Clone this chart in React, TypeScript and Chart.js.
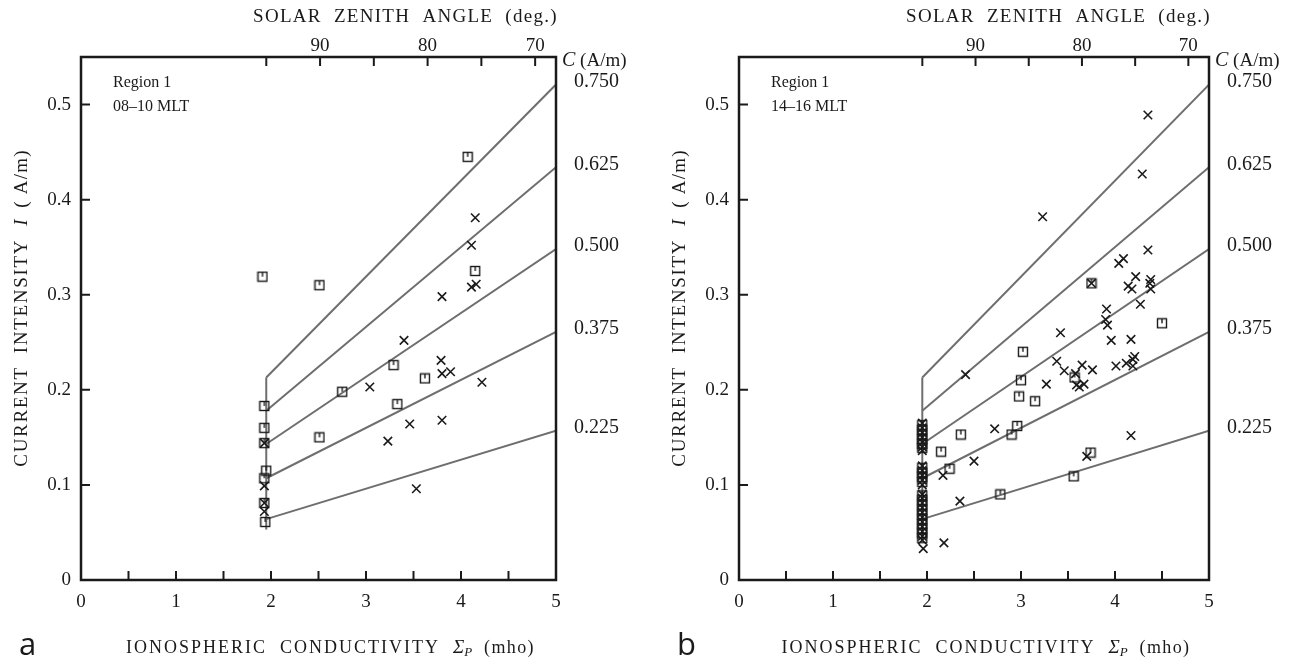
import React, { useEffect, useRef } from "react";
import { Chart, registerables } from "chart.js";

Chart.register(...registerables);

// ---------- shared axis / curve data ----------
const xTickValues = [0, 1, 2, 3, 4, 5];
const xMinorTicks = [0.5, 1, 1.5, 2, 2.5, 3, 3.5, 4, 4.5];
const yTickValues = [0, 0.1, 0.2, 0.3, 0.4, 0.5];
const yInnerTicks = [0.1, 0.2, 0.3, 0.4, 0.5];
const zenithTicks = [95, 90, 85, 80, 75, 70];
const zenithLabels = ["", "90", "", "80", "", "70"];
const zenithMin = 68.06;
const zenithMax = 112.23;
const cLabels = ["0.750", "0.625", "0.500", "0.375", "0.225"];
const lineStartSigma = 1.95;
const lineEndSigma = 5;
const lineStartI = [0.213, 0.178, 0.143, 0.107, 0.064];
const lineEndI = [0.521, 0.434, 0.348, 0.261, 0.157];

// ---------- panel a (08-10 MLT) ----------
const aVertical = [0.053, 0.213];
const aSquareX = [1.91, 2.51, 4.07, 4.15, 3.29, 3.62, 2.75, 3.33, 2.51, 1.93, 1.93, 1.93, 1.95, 1.93, 1.93, 1.94];
const aSquareY = [0.319, 0.31, 0.445, 0.325, 0.226, 0.212, 0.198, 0.185, 0.15, 0.183, 0.16, 0.144, 0.115, 0.107, 0.081, 0.061];
const aCrossX = [4.15, 4.11, 4.11, 4.16, 3.8, 3.4, 3.79, 3.8, 3.89, 3.04, 4.22, 3.46, 3.8, 3.23, 3.53, 1.93, 1.93, 1.93, 1.93];
const aCrossY = [0.381, 0.352, 0.308, 0.311, 0.298, 0.252, 0.231, 0.217, 0.219, 0.203, 0.208, 0.164, 0.168, 0.146, 0.096, 0.144, 0.099, 0.081, 0.072];

// ---------- panel b (14-16 MLT) ----------
const bVertical = [0.04, 0.213];
const bSquareX = [
  3.75, 4.5, 3.02, 3.0, 2.98, 3.15, 3.57, 2.96, 2.9, 2.36, 2.15, 2.24, 3.74, 3.56, 2.78,
  1.95, 1.95, 1.95, 1.95, 1.95, 1.95,
  1.95, 1.95, 1.95, 1.95,
  1.95, 1.95, 1.95, 1.95, 1.95, 1.95, 1.95, 1.95, 1.95, 1.95,
];
const bSquareY = [
  0.312, 0.27, 0.24, 0.21, 0.193, 0.188, 0.213, 0.162, 0.153, 0.153, 0.135, 0.117, 0.134, 0.109, 0.09,
  0.163, 0.158, 0.153, 0.148, 0.143, 0.139,
  0.118, 0.113, 0.108, 0.103,
  0.089, 0.084, 0.079, 0.074, 0.069, 0.064, 0.059, 0.054, 0.049, 0.044,
];
const bCrossX = [
  4.35, 4.29, 3.23, 4.35, 4.09, 4.04, 3.75, 4.22, 4.14, 4.18, 4.38, 4.37, 4.38, 4.27, 3.91,
  3.9, 3.92, 3.42, 3.96, 4.17, 3.38, 3.46, 3.65, 3.76, 3.58, 3.59, 3.67, 3.62, 4.01, 4.12,
  4.19, 4.21, 4.19, 3.27, 2.41, 2.72, 2.5, 2.17, 4.17, 3.7, 2.35, 2.18, 1.96,
  1.95, 1.95, 1.95, 1.95, 1.95, 1.95, 1.95,
  1.95, 1.95, 1.95, 1.95, 1.95,
  1.95, 1.95, 1.95, 1.95, 1.95, 1.95, 1.95, 1.95, 1.95, 1.95, 1.95,
];
const bCrossY = [
  0.489, 0.427, 0.382, 0.347, 0.338, 0.333, 0.312, 0.319, 0.309, 0.306, 0.316, 0.312, 0.306, 0.29, 0.285,
  0.274, 0.268, 0.26, 0.252, 0.253, 0.23, 0.22, 0.226, 0.221, 0.217, 0.205, 0.206, 0.203, 0.225, 0.228,
  0.232, 0.235, 0.225, 0.206, 0.216, 0.159, 0.125, 0.11, 0.152, 0.13, 0.083, 0.039, 0.033,
  0.165, 0.16, 0.155, 0.15, 0.145, 0.14, 0.136,
  0.12, 0.115, 0.11, 0.105, 0.1,
  0.09, 0.086, 0.081, 0.076, 0.071, 0.066, 0.061, 0.056, 0.051, 0.046, 0.042,
];

const SERIF = "'Liberation Serif', 'Times New Roman', serif";
const SANS = "'Open Sans', 'Noto Sans', sans-serif";
const LINE_GREY = "#6e6e6e";
const INK = "#1a1a1a";

type Run = { text: string; font: string; dy?: number; ls?: number };

function drawRuns(ctx: CanvasRenderingContext2D, runs: Run[], x: number, y: number, align: "left" | "center" | "right") {
  const c: any = ctx;
  const widths = runs.map((r) => {
    ctx.font = r.font;
    c.letterSpacing = `${r.ls || 0}px`;
    return ctx.measureText(r.text).width;
  });
  const total = widths.reduce((a, b) => a + b, 0);
  let cx = align === "left" ? x : align === "center" ? x - total / 2 : x - total;
  ctx.textAlign = "left";
  ctx.textBaseline = "middle";
  runs.forEach((r, i) => {
    ctx.font = r.font;
    c.letterSpacing = `${r.ls || 0}px`;
    ctx.fillText(r.text, cx, y + (r.dy || 0));
    cx += widths[i];
  });
  c.letterSpacing = "0px";
}

function makeSquareMarker(): HTMLCanvasElement {
  const c = document.createElement("canvas");
  c.width = 12;
  c.height = 12;
  const g = c.getContext("2d")!;
  g.strokeStyle = INK;
  g.lineWidth = 1.4;
  g.strokeRect(1.5, 1.5, 9, 9);
  g.beginPath();
  g.moveTo(6, 1.5);
  g.lineTo(6, 6);
  g.stroke();
  return c;
}

type PanelProps = {
  left: number;
  width: number;
  axisWidth: number;
  letter: string;
  mlt: string;
  vertical: number[];
  squareX: number[];
  squareY: number[];
  crossX: number[];
  crossY: number[];
};

function Panel(p: PanelProps) {
  const ref = useRef<HTMLCanvasElement | null>(null);
  useEffect(() => {
    if (!ref.current) return;
    const squareImg = makeSquareMarker();
    const lineSets = cLabels.map((_, i) => ({
      type: "line" as const,
      data: [
        { x: lineStartSigma, y: lineStartI[i] },
        { x: lineEndSigma, y: lineEndI[i] },
      ],
      borderColor: LINE_GREY,
      borderWidth: 2,
      pointRadius: 0,
      showLine: true,
      order: 2,
    }));
    const vertSet = {
      type: "line" as const,
      data: [
        { x: lineStartSigma, y: p.vertical[0] },
        { x: lineStartSigma, y: p.vertical[1] },
      ],
      borderColor: LINE_GREY,
      borderWidth: 2,
      pointRadius: 0,
      showLine: true,
      order: 2,
    };
    const squares = {
      type: "scatter" as const,
      data: p.squareX.map((x, i) => ({ x, y: p.squareY[i] })),
      pointStyle: squareImg,
      pointRadius: 6,
      order: 1,
    };
    const crosses = {
      type: "scatter" as const,
      data: p.crossX.map((x, i) => ({ x, y: p.crossY[i] })),
      pointStyle: "crossRot",
      pointRadius: 6,
      borderColor: INK,
      borderWidth: 1.6,
      order: 0,
    };

    const decor = {
      id: "decor",
      afterDatasetsDraw(chart: any) {
        const ctx: CanvasRenderingContext2D = chart.ctx;
        const a = chart.chartArea;
        const xs = chart.scales.x;
        const ys = chart.scales.y;
        const zs = chart.scales.z;
        ctx.save();
        ctx.strokeStyle = INK;
        ctx.fillStyle = INK;
        // frame
        ctx.lineWidth = 2.5;
        ctx.strokeRect(a.left, a.top, a.right - a.left, a.bottom - a.top);
        // inward ticks
        ctx.lineWidth = 2;
        ctx.beginPath();
        xMinorTicks.forEach((v) => {
          const px = xs.getPixelForValue(v);
          ctx.moveTo(px, a.bottom);
          ctx.lineTo(px, a.bottom - 9);
        });
        yInnerTicks.forEach((v) => {
          const py = ys.getPixelForValue(v);
          ctx.moveTo(a.left, py);
          ctx.lineTo(a.left + 9, py);
        });
        zenithTicks.forEach((v) => {
          const px = zs.getPixelForValue(v);
          ctx.moveTo(px, a.top);
          ctx.lineTo(px, a.top + 9);
        });
        ctx.stroke();

        // top title
        drawRuns(ctx, [{ text: "SOLAR  ZENITH  ANGLE  (deg.)", font: `19px ${SERIF}`, ls: 1.3 }], a.right + 2, 17, "right");
        // C (A/m)
        drawRuns(
          ctx,
          [
            { text: "C", font: `italic 20px ${SERIF}` },
            { text: " (A/m)", font: `19px ${SERIF}` },
          ],
          a.right + 6,
          a.top + 4,
          "left"
        );
        // right-hand C labels
        cLabels.forEach((lab, i) => {
          const py = ys.getPixelForValue(lineEndI[i]);
          drawRuns(ctx, [{ text: lab, font: `20px ${SERIF}` }], a.right + 18, py - 3, "left");
        });
        // region label
        drawRuns(ctx, [{ text: "Region 1", font: `16px ${SERIF}` }], a.left + 32, a.top + 26, "left");
        drawRuns(ctx, [{ text: p.mlt, font: `16px ${SERIF}` }], a.left + 32, a.top + 50, "left");
        // x title
        drawRuns(
          ctx,
          [
            { text: "IONOSPHERIC  CONDUCTIVITY  ", font: `18px ${SERIF}`, ls: 2.0 },
            { text: "Σ", font: `italic 19px ${SERIF}` },
            { text: "P", font: `italic 13px ${SERIF}`, dy: 5 },
            { text: "  (mho)", font: `18px ${SERIF}`, ls: 1.4 },
          ],
          (a.left + a.right) / 2 + 12,
          648,
          "center"
        );
        // panel letter
        drawRuns(ctx, [{ text: p.letter, font: `31px ${SANS}` }], a.left - 62, 646, "left");
        // y title (rotated)
        ctx.translate(a.left - 59, 308);
        ctx.rotate(-Math.PI / 2);
        drawRuns(
          ctx,
          [
            { text: "CURRENT  INTENSITY  ", font: `19px ${SERIF}`, ls: 1.7 },
            { text: "I", font: `italic 19px ${SERIF}` },
            { text: "  ( A/m)", font: `19px ${SERIF}`, ls: 1.2 },
          ],
          0,
          0,
          "center"
        );
        ctx.restore();
      },
    };

    const chart = new Chart(ref.current, {
      type: "scatter",
      data: { datasets: [crosses, squares, vertSet, ...lineSets] as any },
      options: {
        animation: false,
        responsive: false,
        events: [],
        layout: { padding: { left: 0, right: 96, top: 0, bottom: 0 } },
        plugins: { legend: { display: false }, tooltip: { enabled: false } },
        scales: {
          x: {
            type: "linear",
            position: "bottom",
            min: 0,
            max: 5,
            grid: { display: false, drawTicks: false },
            border: { display: false },
            afterBuildTicks: (s: any) => {
              s.ticks = xTickValues.map((v) => ({ value: v }));
            },
            afterFit: (s: any) => {
              s.height = 82;
            },
            ticks: {
              color: INK,
              padding: 11,
              maxRotation: 0,
              font: { family: SERIF, size: 19 },
              callback: (v: any) => String(v),
            },
          },
          z: {
            type: "linear",
            position: "top",
            reverse: true,
            min: zenithMin,
            max: zenithMax,
            grid: { display: false, drawTicks: false },
            border: { display: false },
            afterBuildTicks: (s: any) => {
              s.ticks = zenithTicks.map((v) => ({ value: v }));
            },
            afterFit: (s: any) => {
              s.height = 57;
            },
            ticks: {
              color: INK,
              padding: 0,
              maxRotation: 0,
              font: { family: SERIF, size: 19 },
              callback: (v: any) => {
                const i = zenithTicks.indexOf(Number(v));
                return i >= 0 ? zenithLabels[i] : "";
              },
            },
          },
          y: {
            type: "linear",
            position: "left",
            min: 0,
            max: 0.55,
            grid: { display: false, drawTicks: false },
            border: { display: false },
            afterBuildTicks: (s: any) => {
              s.ticks = yTickValues.map((v) => ({ value: v }));
            },
            afterFit: (s: any) => {
              s.width = p.axisWidth;
            },
            ticks: {
              color: INK,
              padding: 10,
              font: { family: SERIF, size: 19 },
              callback: (v: any) => (Number(v) === 0 ? "0" : Number(v).toFixed(1)),
            },
          },
        },
      } as any,
      plugins: [decor],
    });
    return () => chart.destroy();
  }, []);
  return (
    <canvas
      ref={ref}
      width={p.width}
      height={662}
      style={{ position: "absolute", left: p.left, top: 0, width: p.width, height: 662 }}
    />
  );
}

export default function App() {
  return (
    <div style={{ position: "absolute", left: 0, top: 0, width: 1305, height: 662, background: "#fff" }}>
      <Panel
        left={0}
        width={652}
        axisWidth={81}
        letter="a"
        mlt="08–10 MLT"
        vertical={aVertical}
        squareX={aSquareX}
        squareY={aSquareY}
        crossX={aCrossX}
        crossY={aCrossY}
      />
      <Panel
        left={652}
        width={653}
        axisWidth={87}
        letter="b"
        mlt="14–16 MLT"
        vertical={bVertical}
        squareX={bSquareX}
        squareY={bSquareY}
        crossX={bCrossX}
        crossY={bCrossY}
      />
    </div>
  );
}
